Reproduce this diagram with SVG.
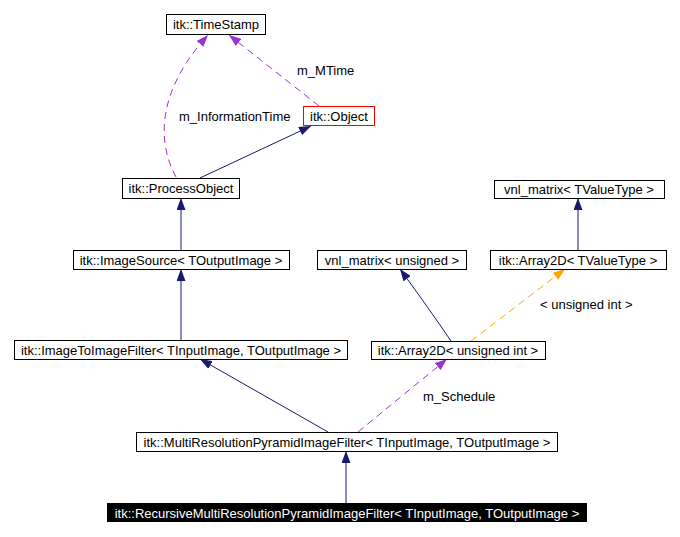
<svg xmlns="http://www.w3.org/2000/svg" width="680" height="537" viewBox="0 0 680 537">
<defs>
<style>
.box{fill:#fff;stroke:#000;stroke-width:1}
.t{font-family:"Liberation Sans",Arial,sans-serif;font-size:13px;fill:#000;text-anchor:middle}
.lbl{font-family:"Liberation Sans",Arial,sans-serif;font-size:13px;fill:#000}
.inh{fill:none;stroke:#191970;stroke-width:1}
.use{fill:none;stroke:#9a32cd;stroke-width:1;stroke-dasharray:7,5}
.tpl{fill:none;stroke:#ffa500;stroke-width:1;stroke-dasharray:7,5}
</style>
<marker id="aN" viewBox="0 0 12 9" refX="12" refY="4.5" markerWidth="12" markerHeight="9" markerUnits="userSpaceOnUse" orient="auto"><path d="M0,0 L12,4.5 L0,9 z" fill="#191970"/></marker>
<marker id="aP" viewBox="0 0 12 9" refX="12" refY="4.5" markerWidth="12" markerHeight="9" markerUnits="userSpaceOnUse" orient="auto"><path d="M0,0 L12,4.5 L0,9 z" fill="#9a32cd"/></marker>
<marker id="aO" viewBox="0 0 12 9" refX="12" refY="4.5" markerWidth="12" markerHeight="9" markerUnits="userSpaceOnUse" orient="auto"><path d="M0,0 L12,4.5 L0,9 z" fill="#ffa500"/></marker>
</defs>
<rect width="680" height="537" fill="#fff"/>
<g id="connectors">
<path class="inh" d="M200,178 L311,126" marker-end="url(#aN)"/>
<path class="inh" d="M181,250 L181,198" marker-end="url(#aN)"/>
<path class="inh" d="M181,340 L181,269" marker-end="url(#aN)"/>
<path class="inh" d="M328,432 L200,359" marker-end="url(#aN)"/>
<path class="inh" d="M346,503 L346,451" marker-end="url(#aN)"/>
<path class="inh" d="M451,341 Q430,310 400,269" marker-end="url(#aN)"/>
<path class="inh" d="M578,250 L578,198" marker-end="url(#aN)"/>
<path class="tpl" d="M471,341 L565,269" marker-end="url(#aO)"/>
<path class="use" d="M358,432 L447,359" marker-end="url(#aP)"/>
<path class="use" d="M176,177 C156,140 158,90 208,35" marker-end="url(#aP)"/>
<path class="use" d="M319,106 L229,35" marker-end="url(#aP)"/>
<text class="lbl" x="297" y="75">m_MTime</text>
<text class="lbl" x="179" y="121">m_InformationTime</text>
<text class="lbl" x="540" y="309">&lt; unsigned int &gt;</text>
<text class="lbl" x="423" y="401">m_Schedule</text>
</g>
<g id="TimeStamp"><rect class="box" x="166.5" y="14.5" width="99" height="20"/><text class="t" x="216" y="29">itk::TimeStamp</text></g>
<g id="Object"><rect x="303.5" y="106.5" width="71" height="19" fill="#fff" stroke="#ff0000"/><text class="t" x="339" y="121">itk::Object</text></g>
<g id="ProcessObject"><rect class="box" x="122.5" y="178.5" width="117" height="20"/><text class="t" x="181" y="193">itk::ProcessObject</text></g>
<g id="vnlTValueType"><rect class="box" x="494.5" y="180.5" width="170" height="18"/><text class="t" x="579" y="194">vnl_matrix&lt; TValueType &gt;</text></g>
<g id="ImageSource"><rect class="box" x="73.5" y="250.5" width="216" height="19"/><text class="t" x="181" y="265">itk::ImageSource&lt; TOutputImage &gt;</text></g>
<g id="vnlUnsigned"><rect class="box" x="317.5" y="250.5" width="149" height="19"/><text class="t" x="392" y="265">vnl_matrix&lt; unsigned &gt;</text></g>
<g id="Array2DTValueType"><rect class="box" x="490.5" y="250.5" width="176" height="19"/><text class="t" x="578" y="265">itk::Array2D&lt; TValueType &gt;</text></g>
<g id="ImageToImageFilter"><rect class="box" x="14.5" y="340.5" width="333" height="19"/><text class="t" x="181" y="355">itk::ImageToImageFilter&lt; TInputImage, TOutputImage &gt;</text></g>
<g id="Array2DUnsignedInt"><rect class="box" x="371.5" y="341.5" width="174" height="18"/><text class="t" x="458" y="355">itk::Array2D&lt; unsigned int &gt;</text></g>
<g id="MultiResolutionPyramidImageFilter"><rect class="box" x="136.5" y="432.5" width="421" height="19"/><text class="t" x="347" y="447">itk::MultiResolutionPyramidImageFilter&lt; TInputImage, TOutputImage &gt;</text></g>
<g id="RecursiveMultiResolutionPyramidImageFilter"><rect x="107" y="503" width="480" height="19" fill="#000"/><text class="t" x="347" y="518" style="fill:#fff">itk::RecursiveMultiResolutionPyramidImageFilter&lt; TInputImage, TOutputImage &gt;</text></g>
</svg>
